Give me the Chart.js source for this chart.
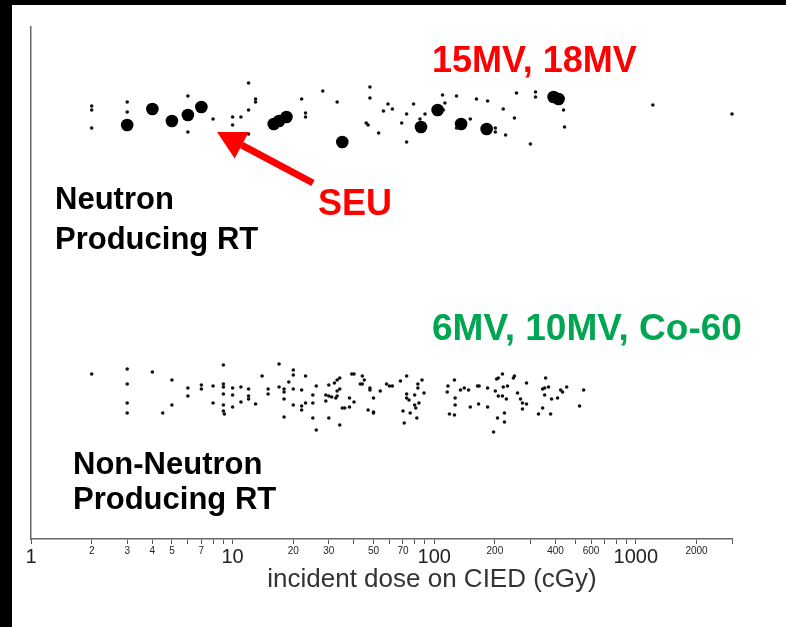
<!DOCTYPE html>
<html>
<head>
<meta charset="utf-8">
<script src="https://cdn.jsdelivr.net/npm/chart.js@4"></script>
<style>
  html, body { margin: 0; padding: 0; background: #000; }
  #frame { position: absolute; left: 12px; top: 5px; width: 774px; height: 622px; background: #fff; }
</style>
</head>
<body>
<div id="frame"><canvas id="myChart" width="774" height="622"></canvas></div>
<script>
// dose in cGy (x) and vertical jitter (y, no physical meaning)
const neutronDose = [2, 2, 2, 3, 3, 6, 6, 8, 10, 10, 11, 12, 13, 13, 12, 12, 22, 23, 23, 28, 33, 48, 48, 46, 47, 53, 56, 59, 62, 69, 73, 73, 79, 85, 90, 110, 111, 113, 129, 151, 129, 162, 184, 256, 318, 318, 220, 250, 201, 201, 226, 300, 438, 443, 1215, 3000]
const neutronJitter = [433, 429, 411, 437, 427, 443, 407, 420, 422, 414, 422, 456, 440, 437, 429, 405, 440, 426, 422, 448, 437, 452, 441, 416, 414, 406, 428, 435, 430, 416, 425, 397, 435, 420, 425, 444, 429, 436, 443, 420, 411, 440, 438, 446, 447, 442, 430, 421, 411, 407, 404, 395, 429, 412, 434, 425]

const seuDose = [3, 4, 5, 6, 7, 16, 17, 18.5, 35, 86, 104, 136, 182, 391, 414]
const seuJitter = [414, 430, 418, 424, 432, 415, 418, 422, 397, 412, 429, 415, 410, 442, 440]

const nonNeutronDose = [2, 3, 3, 3, 3, 4, 5, 5, 4.5, 6, 6, 7, 7, 8, 8, 9, 9, 9, 9, 9, 9, 9.1, 10, 10, 10, 11, 11, 12, 12, 12,
  13, 14, 17, 15, 15, 17, 18, 18, 18, 18, 19, 20, 20, 20, 20, 22, 22, 22, 23, 23, 25, 25, 25, 26, 26, 29, 29, 30, 30, 30,
  31, 32.5, 33, 32, 33, 34, 33, 34, 34, 35, 36, 38, 38, 39, 40, 40, 43, 44, 44, 45, 48, 48, 47, 50, 50, 50, 54, 58, 60, 62,
  68, 73, 71, 70, 73, 73, 75, 80, 80, 76, 82, 81, 83, 83, 84,
  89, 87, 116, 117, 126, 127, 127, 119, 126, 135, 141, 148, 151, 164, 167, 166, 184, 184, 197, 201, 204, 208, 218, 220, 218,
  208, 231, 228, 206, 223, 223, 247, 250, 259, 268, 274, 287, 274, 287, 329, 345, 345, 353, 369, 357, 353, 382, 378, 409,
  424, 433, 454, 526, 551]
const nonNeutronJitter = [165, 170, 155, 136, 126, 167, 159, 134, 126, 151, 143, 154, 150, 153, 136, 174, 155, 152, 145, 134, 128, 125, 151, 144, 132, 152, 137, 150, 143, 140,
  135, 163, 175, 150, 145, 152, 150, 147, 140, 122, 157, 169, 164, 150, 134, 149, 133, 129, 163, 136, 144, 136, 121, 153, 109, 144, 138, 154, 121, 143,
  142, 141, 143, 156, 159, 161, 148, 150, 114, 131, 131, 141, 132, 165, 165, 137, 155, 155, 163, 159, 151, 149, 129, 127, 126, 141, 148, 155, 153, 153,
  158, 163, 116, 128, 145, 141, 139, 144, 134, 126, 121, 131, 155, 151, 136,
  146, 159, 147, 153, 159, 141, 134, 125, 124, 149, 151, 149, 132, 153, 153, 135, 151, 132, 107, 148, 160, 161, 165, 152, 143,
  143, 153, 140, 121, 126, 117, 161, 163, 146, 140, 136, 135, 130, 156, 125, 131, 150, 151, 152, 161, 144, 140, 125, 141,
  149, 147, 152, 133, 149]

const tickValues = [1, 2, 3, 4, 5, 6, 7, 8, 9, 10, 20, 30, 40, 50, 60, 70, 80, 90, 100, 200, 300, 400, 500, 600, 700, 800, 900, 1000, 2000, 3000]
const tickLabels = [1, 2, 3, 4, 5, 7, 10, 20, 30, 50, 70, 100, 200, 400, 600, 1000, 2000]
const majorTicks = [1, 10, 100, 1000]

function pts(xs, ys) {
  return xs.map((x, i) => ({ x: x, y: ys[i] }))
}

const notes = {
  id: 'notes',
  afterDraw(chart) {
    const c = chart.ctx
    c.save()
    c.textBaseline = 'middle'
    c.textAlign = 'left'
    c.font = 'bold 36px "Liberation Sans", Arial, sans-serif'
    c.fillStyle = '#ff0000'
    c.fillText('15MV, 18MV', 420, 57)
    c.fillText('SEU', 306, 200)
    c.font = 'bold 37px "Liberation Sans", Arial, sans-serif'
    c.fillStyle = '#00a651'
    c.fillText('6MV, 10MV, Co-60', 420, 325)
    c.font = 'bold 31px "Liberation Sans", Arial, sans-serif'
    c.fillStyle = '#000'
    c.fillText('Neutron', 43, 195)
    c.fillText('Producing RT', 43, 235)
    c.fillText('Non-Neutron', 61, 460)
    c.fillText('Producing RT', 61, 495)

    // axis title, centred where the original puts it
    c.textAlign = 'center'
    c.font = '26px "Liberation Sans", Arial, sans-serif'
    c.fillStyle = '#333'
    c.fillText('incident dose on CIED (cGy)', 420, 575)

    // arrow to the SEU points
    const x0 = 301, y0 = 178, x1 = 205, y1 = 127
    const a = Math.atan2(y1 - y0, x1 - x0)
    const hl = 28, hw = 15
    const bx = x1 - hl * Math.cos(a), by = y1 - hl * Math.sin(a)
    c.strokeStyle = '#ff0000'
    c.lineWidth = 7
    c.beginPath()
    c.moveTo(x0, y0)
    c.lineTo(bx, by)
    c.stroke()
    c.fillStyle = '#ff0000'
    c.beginPath()
    c.moveTo(x1, y1)
    c.lineTo(bx + hw * Math.sin(a), by - hw * Math.cos(a))
    c.lineTo(bx - hw * Math.sin(a), by + hw * Math.cos(a))
    c.closePath()
    c.fill()
    c.restore()
  }
}

const ctx = document.getElementById('myChart')

new Chart(ctx, {
  type: 'scatter',
  data: {
    datasets: [
      {
        label: 'Neutron producing RT',
        data: pts(neutronDose, neutronJitter),
        backgroundColor: '#111',
        borderWidth: 0,
        pointRadius: 1.8,
        clip: false
      },
      {
        label: 'SEU',
        data: pts(seuDose, seuJitter),
        backgroundColor: '#000',
        borderWidth: 0,
        pointRadius: 6.3,
        clip: false
      },
      {
        label: 'Non-neutron producing RT',
        data: pts(nonNeutronDose, nonNeutronJitter),
        backgroundColor: '#111',
        borderWidth: 0,
        pointRadius: 1.8,
        clip: false
      }
    ]
  },
  options: {
    responsive: false,
    animation: false,
    devicePixelRatio: 1,
    layout: { padding: { left: 19, right: 54, top: 22, bottom: 0 } },
    plugins: {
      legend: { display: false },
      tooltip: { enabled: false }
    },
    scales: {
      x: {
        type: 'logarithmic',
        min: 1,
        max: 3000,
        afterBuildTicks: (s) => { s.ticks = tickValues.map(v => ({ value: v })) },
        afterFit: (s) => { s.height = 88 },
        border: { display: true, color: '#666', width: 1.5 },
        grid: { drawOnChartArea: false, drawTicks: true, tickLength: 5, color: '#555' },
        ticks: {
          autoSkip: false,
          maxRotation: 0,
          padding: 1,
          color: '#222',
          font: (c) => majorTicks.includes(c.tick && c.tick.value)
            ? { family: '"Liberation Sans", Arial', size: 20 }
            : { family: '"Liberation Sans", Arial', size: 10 },
          callback: (v) => tickLabels.includes(v) ? String(v) : ''
        }
      },
      y: {
        min: 0,
        max: 512,
        afterFit: (s) => { s.width = 0 },
        border: { display: true, color: '#666', width: 1.5 },
        grid: { display: false },
        ticks: { display: false }
      }
    }
  },
  plugins: [notes]
})
</script>
</body>
</html>
